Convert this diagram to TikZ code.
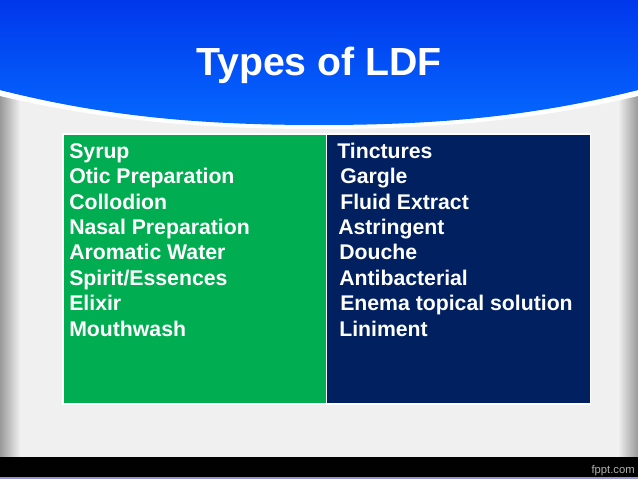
\documentclass[tikz,border=0pt]{standalone}
\usepackage{fontspec}
\setmainfont{Liberation Sans}
\usetikzlibrary{positioning}
\definecolor{cellgreen}{RGB}{0,173,80}
\definecolor{cellnavy}{RGB}{0,32,96}
\definecolor{headblue}{RGB}{0,55,235}
\definecolor{headlight}{RGB}{5,105,255}
\definecolor{wall}{RGB}{240,240,240}
\tikzset{
    cell/.style={fill=#1, draw=white, line width=1pt, minimum height=6.75cm, minimum width=6.59cm, inner sep=0, outer sep=0, anchor=north west},
    listtext/.style={text=white, font=\bfseries\fontsize{15.1}{15.1}\selectfont, anchor=base west, inner sep=0},
}
\begin{document}
\begin{tikzpicture}[x=0.025cm, y=-0.025cm]
\useasboundingbox (0,0) rectangle (638,479);
% wall
\fill[wall] (0,0) rectangle (638,479);
\shade[left color=gray!80, right color=wall] (0,80) rectangle (20,458);
\shade[left color=wall, right color=gray!80] (618,80) rectangle (638,458);
% header
\fill[white] (0,90) .. controls (110,118) and (210,125) .. (319,125) .. controls (428,125) and (528,118) .. (638,90) -- (638,96) .. controls (528,122) and (428,129) .. (319,129) .. controls (210,129) and (110,122) .. (0,96) -- cycle;
\shade[bottom color=headlight, top color=headblue] (0,0) -- (638,0) -- (638,90) .. controls (528,118) and (428,125) .. (319,125) .. controls (210,125) and (110,118) .. (0,90) -- cycle;
\node[text=white, font=\bfseries\fontsize{27.9}{27.9}\selectfont, anchor=base] (title) at (319,75) {Types of LDF};
% table
\node[cell=cellgreen] (green) at (63,134) {};
\node[cell=cellnavy, right=0 of green] (navy) {};
\foreach \i/\t in {0/Syrup,1/Otic Preparation,2/Collodion,3/Nasal Preparation,4/Aromatic Water,5/Spirit\slash Essences,6/Elixir,7/Mouthwash}
    \node[listtext] (left\i) at (69,158.3+25.4*\i) {\t};
\foreach \i/\x/\t in {0/337/Tinctures,1/340/Gargle,2/340/Fluid Extract,3/338/Astringent,4/339/Douche,5/339/Antibacterial,6/340/Enema topical solution,7/339/Liniment}
    \node[listtext] (right\i) at (\x,158.3+25.4*\i) {\t};
% footer
\fill[black] (0,457) rectangle (638,477);
\fill[gray!60!blue!60] (0,477) rectangle (638,479);
\node[text=gray!60, inner sep=0, font=\fontsize{8}{8}\selectfont, anchor=base east] (brand) at (635,473) {fppt.com};
\end{tikzpicture}
\end{document}
